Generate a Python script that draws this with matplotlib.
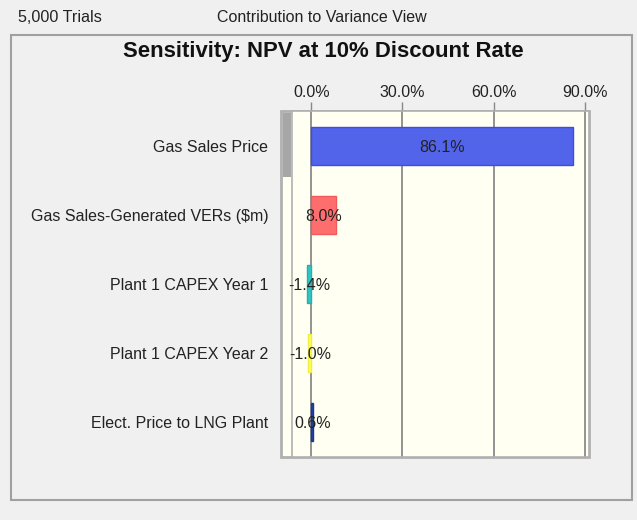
import matplotlib
matplotlib.use("Agg")
import matplotlib.pyplot as plt
from matplotlib.patches import Rectangle

categories = ["Gas Sales Price", "Gas Sales-Generated VERs ($m)", "Plant 1 CAPEX Year 1",
              "Plant 1 CAPEX Year 2", "Elect. Price to LNG Plant"]
values = [86.1, 8.0, -1.4, -1.0, 0.6]
labels = ["86.1%", "8.0%", "-1.4%", "-1.0%", "0.6%"]
bar_colors = ["#5264ea", "#ff6e6e", "#33c4c4", "#ffff55", "#2446a0"]
edge_colors = ["#3a4ee0", "#f05a5a", "#22b0b0", "#eeee44", "#1a3890"]
xticks = [0, 30, 60, 90]
xtick_labels = ["0.0%", "30.0%", "60.0%", "90.0%"]

plt.rcParams['font.family'] = ['Liberation Sans', 'DejaVu Sans']

W, H = 637, 520
fig = plt.figure(figsize=(W / 100, H / 100), dpi=100)
fig.patch.set_facecolor("#f0f0f0")

def px(x0, y0, x1, y1):
    return [x0 / W, 1 - y1 / H, (x1 - x0) / W, (y1 - y0) / H]

# outer panel
l, b, w, h = px(11, 35, 632, 500)
fig.patches.append(Rectangle((l, b), w, h, transform=fig.transFigure,
                             facecolor="#f0f0f0", edgecolor="#a0a0a0", lw=1.5, zorder=-2))
# plot frame with scroll strip
l, b, w, h = px(281, 111, 589, 457)
fig.patches.append(Rectangle((l, b), w, h, transform=fig.transFigure,
                             facecolor="#fffff2", edgecolor="#b0b0b0", lw=2, zorder=-1))
l, b, w, h = px(283, 113, 290.5, 177)
fig.patches.append(Rectangle((l, b), w, h, transform=fig.transFigure,
                             facecolor="#a6a6a6", edgecolor="none", zorder=-0.5))

fig.text(18 / W, 1 - 18 / H, "5,000 Trials", ha="left", va="center", fontsize=11.6, color="#222222")
fig.text(217 / W, 1 - 18 / H, "Contribution to Variance View", ha="left", va="center",
         fontsize=11.5, color="#222222")
fig.text(323 / W, 1 - 51 / H, "Sensitivity: NPV at 10% Discount Rate", ha="center", va="center",
         fontsize=15.9, fontweight="bold", color="#111111")

ax = fig.add_axes(px(292, 111, 589, 457))
ax.set_zorder(2)
ax.set_facecolor("#fffff2")
y = list(range(len(categories)))
ax.barh(y, values, height=0.55, color=bar_colors, edgecolor=edge_colors, lw=1, zorder=3)
for yi, v, t in zip(y, values, labels):
    ax.text(v / 2, yi, t, ha="center", va="center_baseline", fontsize=11.5, color="#222222", zorder=4)

ax.set_xlim(-6.35, 91.4)
ax.set_ylim(4.5, -0.5)
ax.set_xticks(xticks)
ax.set_xticklabels(xtick_labels)
ax.xaxis.tick_top()
ax.tick_params(axis="x", length=6.5, width=1, color="#888888", pad=1.5, labelsize=11.5,
               labelcolor="#222222")
ax.set_yticks(y)
ax.set_yticklabels(categories)
ax.tick_params(axis="y", length=0, pad=17, labelsize=11.5, labelcolor="#222222")
for xv in xticks:
    ax.axvline(xv, color="#8a8a8a", lw=1.3, zorder=2)
for s in ax.spines.values():
    s.set_color("#b0b0b0")
    s.set_linewidth(1.2)

fig.savefig("out.png", dpi=100, facecolor=fig.get_facecolor())
